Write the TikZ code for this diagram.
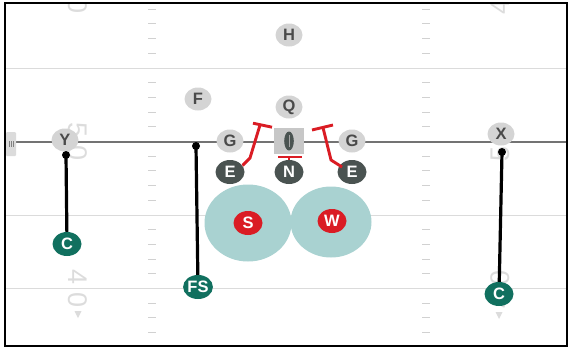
\documentclass[tikz,border=0pt]{standalone}
\usepackage{fontspec}
\setmainfont{Liberation Sans}
\usetikzlibrary{positioning,shapes.geometric}
\definecolor{offgray}{HTML}{D4D4D4}
\definecolor{offtext}{HTML}{4A4A4A}
\definecolor{defdark}{HTML}{4A5351}
\definecolor{covteal}{HTML}{11705F}
\definecolor{blitzred}{HTML}{DA1C24}
\definecolor{zoneteal}{HTML}{A9D2D1}
\definecolor{numgray}{HTML}{DCDCDC}
\tikzset{
  offense/.style={ellipse,fill=offgray,text=offtext,minimum width=27pt,minimum height=23pt,inner sep=0pt,font=\fontsize{16.5}{16.5}\selectfont\bfseries},
  defense/.style={offense,fill=defdark,text=white,minimum width=29pt,minimum height=24pt},
  cover/.style={defense,fill=covteal},
  rusher/.style={defense,fill=blitzred},
  zonebox/.style={ellipse,fill=zoneteal,inner sep=0pt},
  routeline/.style={line width=3.2pt,black},
  blockline/.style={line width=2.9pt,blitzred},
  yardline/.style={line width=0.9pt,black!14},
  hashline/.style={line width=0.9pt,black!18},
  yardnum/.style={text=numgray,font=\fontsize{27}{27}\selectfont}
}
\begin{document}
\begin{tikzpicture}[x=1pt,y=-1pt]
  \useasboundingbox (0,0) rectangle (569,348);
  \begin{scope}
    \clip (5,3) rectangle (567,346);
    \foreach \y in {68,215,288} \draw[yardline] (5,\y) -- (567,\y);
    \foreach \k in {-4,...,18} {
      \pgfmathtruncatemacro\r{mod(\k+20,5)}
      \ifnum\r>0
        \draw[hashline] (148,{68+14.7*\k}) -- (156,{68+14.7*\k});
        \draw[hashline] (422,{68+14.7*\k}) -- (430,{68+14.7*\k});
      \fi
    }
    \foreach \y/\t in {-5/4,142/5,289/4} {
      \node[yardnum,rotate=-90] (L\y) at (78,\y) {\t\hspace{8pt}0};
      \node[yardnum,rotate=90] (R\y) at (500,\y) {\t\hspace{8pt}0};
    }
    \fill[numgray] (74.5,311) -- (81.5,311) -- (78,318) -- cycle;
    \fill[numgray] (495.5,312) -- (502.5,312) -- (499,319) -- cycle;
  \end{scope}
  \draw[line width=2pt,black!55] (5,142) -- (567,142);
  \node[fill=black!14,rounded corners=1pt,minimum width=10pt,minimum height=24pt,inner sep=0pt] (tab) at (11,144) {};
  \foreach \x in {9,11,13} \draw[black!50,line width=0.6pt] (\x,141) -- (\x,147);

  \node[zonebox,minimum width=87pt,minimum height=77pt] (Z1) at (248,223) {};
  \node[zonebox,minimum width=81pt,minimum height=71pt] (Z2) at (331,222) {};

  \node[fill=black!22,minimum width=30pt,minimum height=26pt,inner sep=0pt] (ball) at (289,141) {};
  \fill[defdark] (ball.center) ellipse (4.8 and 9.5);
  \draw[black!35,line width=0.8pt] (289,135) -- (289,147);

  \node[offense] (H) at (289,35) {H};
  \node[offense] (F) at (198,99) {F};
  \node[offense] (Q) at (289,107) {Q};
  \node[offense] (G1) at (230,141) {G};
  \node[offense] (G2) at (352,141) {G};
  \node[offense] (Y) at (65,140) {Y};
  \node[offense] (X) at (501,134) {X};

  \node[defense] (E1) at (230,172) {E};
  \node[defense] (N) at (289,172) {N};
  \node[defense] (E2) at (352,172) {E};
  \node[rusher] (S) at (248,223) {S};
  \node[rusher] (W) at (332,221) {W};
  \node[cover] (C1) at (67,244) {C};
  \node[cover] (FS) at (198,287) {FS};
  \node[cover] (C2) at (499,294) {C};

  \coordinate (Yd) at (66,155);
  \coordinate (FSd) at (196,146);
  \coordinate (Xd) at (502,152);
  \foreach \d/\t in {Yd/C1,FSd/FS,Xd/C2} {
    \draw[routeline] (\d) -- (\t);
    \fill (\d) circle (4);
  }

  \coordinate (b1) at (243,165);
  \coordinate (b2) at (250,158);
  \coordinate (b3) at (260,125);
  \draw[blockline] (E1) -- (b1) -- (b2) -- (b3);
  \draw[blockline] (253,123.2) -- (272,127.2);
  \coordinate (b4) at (342,167);
  \coordinate (b5) at (331,160);
  \coordinate (b6) at (323,127.6);
  \draw[blockline] (E2) -- (b4) -- (b5) -- (b6);
  \draw[blockline] (312,130) -- (333,125);
  \coordinate (b7) at (289,157);
  \draw[blockline] (N) -- (b7);
  \draw[blockline] (278,157) -- (302,157);

  \draw[line width=2pt] (5,3) rectangle (567,346);
\end{tikzpicture}
\end{document}
